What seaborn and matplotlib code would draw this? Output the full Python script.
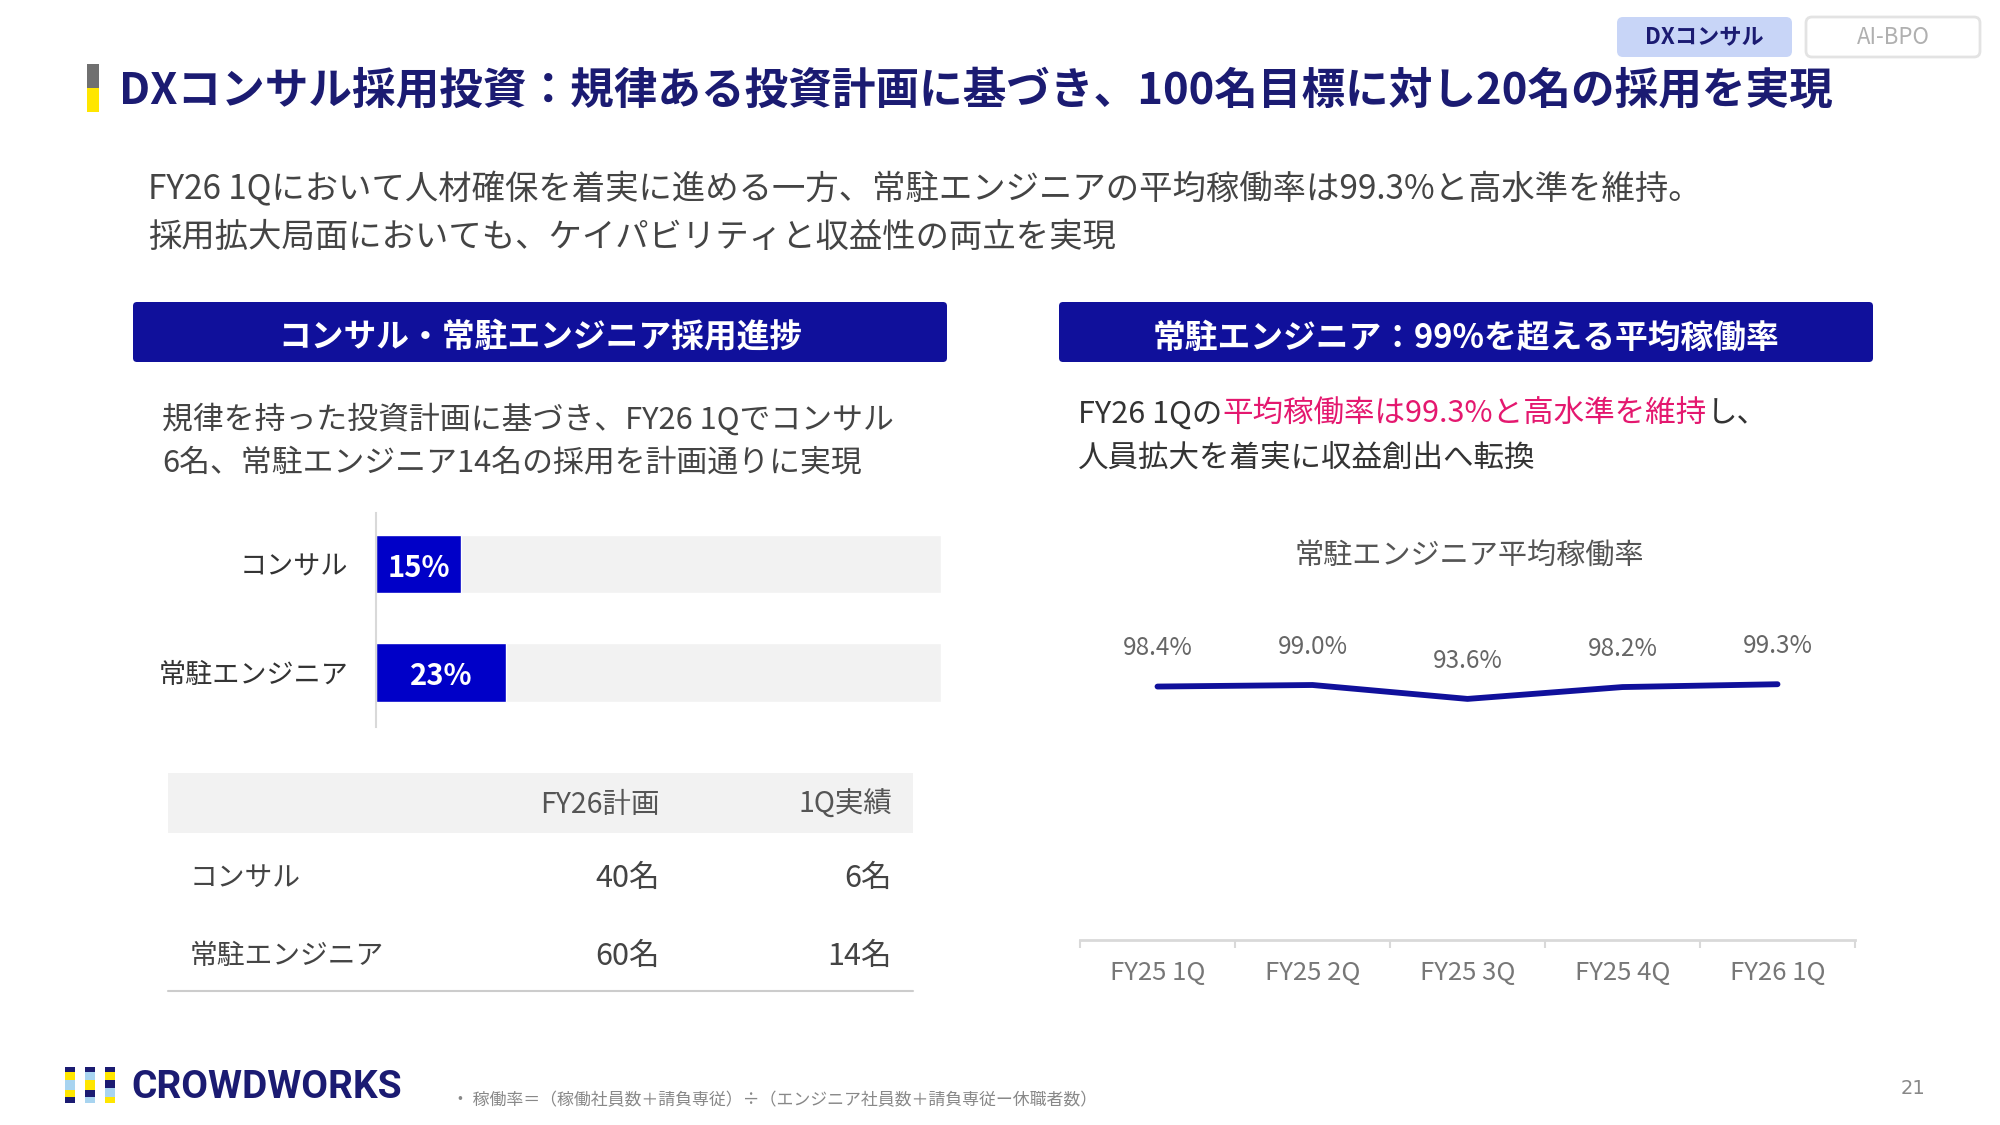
import numpy as np
import pandas as pd
import matplotlib
matplotlib.use('Agg')
import matplotlib.pyplot as plt
from matplotlib.patches import FancyBboxPatch, Rectangle
import seaborn as sns

# ---------------- data ----------------
hire_categories = ['コンサル', '常駐エンジニア']
hire_progress_pct = [15, 23]
hire_total_pct = [100, 100]
table_headers = ['FY26計画', '1Q実績']
plan_fy26 = [40, 60]
actual_1q = [6, 14]
quarters = ['FY25 1Q', 'FY25 2Q', 'FY25 3Q', 'FY25 4Q', 'FY26 1Q']
utilization = [98.4, 99.0, 93.6, 98.2, 99.3]

# ---------------- style ----------------
sns.set_theme(style='white')
plt.rcParams['font.family'] = ['Noto Sans CJK JP', 'DejaVu Sans']

NAVY = '#10109b'
TITLE = '#1b1b72'
DARK = '#444444'

W, H = 2000, 1125
DY = 4  # vertical text nudge (pixels)
fig = plt.figure(figsize=(20, 11.25), dpi=100)
bg = fig.add_axes([0, 0, 1, 1], zorder=0)
bg.set_xlim(0, W)
bg.set_ylim(H, 0)
bg.axis('off')


def px_axes(x0, y0, x1, y1, z=2):
    return fig.add_axes([x0 / W, 1 - y1 / H, (x1 - x0) / W, (y1 - y0) / H], zorder=z)


def txt(x, y, s, **kw):
    kw.setdefault('va', 'center')
    kw.setdefault('ha', 'left')
    return bg.text(x, y + DY, s, **kw)


# ---------------- title ----------------
bg.add_patch(Rectangle((87, 64), 12, 24, color='#707070', lw=0))
bg.add_patch(Rectangle((87, 88), 12, 24, color='#ffe600', lw=0))
txt(119, 87, 'DXコンサル採用投資：規律ある投資計画に基づき、100名目標に対し20名の採用を実現',
    fontsize=31.4, fontweight='bold', color=TITLE)

# tabs
bg.add_patch(FancyBboxPatch((1617, 17), 175, 40, boxstyle='round,pad=0,rounding_size=6',
                            fc='#c8d5f7', ec='none'))
txt(1704, 34, 'DXコンサル', fontsize=16, fontweight='bold', color=TITLE, ha='center')
bg.add_patch(FancyBboxPatch((1806, 17), 174, 40, boxstyle='round,pad=0,rounding_size=6',
                            fc='white', ec='#e3e3e3', lw=2))
txt(1893, 34, 'AI-BPO', fontsize=16, color='#b0b0b0', ha='center')

# subtitle
txt(148, 186, 'FY26 1Qにおいて人材確保を着実に進める一方、常駐エンジニアの平均稼働率は99.3%と高水準を維持。',
    fontsize=24, color=DARK)
txt(148, 234, '採用拡大局面においても、ケイパビリティと収益性の両立を実現',
    fontsize=24, color=DARK)

# section headers
for x0, s in [(133, 'コンサル・常駐エンジニア採用進捗'), (1059, '常駐エンジニア：99%を超える平均稼働率')]:
    bg.add_patch(FancyBboxPatch((x0, 302), 814, 60, boxstyle='round,pad=0,rounding_size=4',
                                fc=NAVY, ec='none'))
    txt(x0 + 407, 334, s, fontsize=23.6, fontweight='bold', color='white', ha='center')

# left paragraph
txt(162, 415, '規律を持った投資計画に基づき、FY26 1Qでコンサル', fontsize=22.2, color=DARK)
txt(162, 459, '6名、常駐エンジニア14名の採用を計画通りに実現', fontsize=22.2, color=DARK)

# right paragraph (rich text)
t1 = txt(1078, 410, 'FY26 1Qの', fontsize=22, color='#333333')
t2 = bg.annotate('平均稼働率は99.3%と高水準を維持', xy=(1, 0), xycoords=t1, fontsize=22,
                 color='#e4186f', va='bottom', ha='left')
bg.annotate('し、', xy=(1, 0), xycoords=t2, fontsize=22, color='#333333', va='bottom', ha='left')
txt(1078, 454, '人員拡大を着実に収益創出へ転換', fontsize=22, color='#333333')

# ---------------- bar chart ----------------
axb = px_axes(376, 513, 941, 727)
df_bar = pd.DataFrame({'cat': hire_categories, 'total': hire_total_pct, 'pct': hire_progress_pct})
sns.barplot(data=df_bar, x='total', y='cat', orient='h', color='#f2f2f2', width=0.54,
            saturation=1, ax=axb)
sns.barplot(data=df_bar, x='pct', y='cat', orient='h', color='#0000c8', width=0.54,
            saturation=1, ax=axb)
axb.set_xlim(0, 100)
axb.set_ylim(1.5, -0.47)
axb.set_xlabel('')
axb.set_ylabel('')
axb.set_xticks([])
for s in ['top', 'right', 'bottom']:
    axb.spines[s].set_visible(False)
axb.spines['left'].set_color('#d9d9d9')
axb.spines['left'].set_linewidth(1.5)
axb.tick_params(axis='y', length=0, pad=20, labelsize=19.5, labelcolor='#333333')
axb.patch.set_alpha(0)
for i, v in enumerate(hire_progress_pct):
    axb.annotate(f'{v}%', xy=(v / 2, i), xytext=(0, -2.5), textcoords='offset points',
                 ha='center', va='center', color='white', fontsize=21, fontweight='bold')

# ---------------- table ----------------
bg.add_patch(Rectangle((168, 773), 745, 60, color='#f2f2f2', lw=0))
col_x = [660, 892]
for x, h in zip(col_x, table_headers):
    txt(x, 801, h, fontsize=20.5, color='#555555', ha='right')
row_y = [874, 952]
for y, cat, p, a in zip(row_y, hire_categories, plan_fy26, actual_1q):
    txt(190, y, cat, fontsize=20, color=DARK)
    txt(col_x[0], y, f'{p}名', fontsize=22, color=DARK, ha='right')
    txt(col_x[1], y, f'{a}名', fontsize=22, color=DARK, ha='right')
bg.plot([168, 913], [991, 991], color='#cccccc', lw=1.5)

# ---------------- line chart ----------------
txt(1469, 553, '常駐エンジニア平均稼働率', fontsize=21, color='#555555', ha='center')
axl = px_axes(1080, 600, 1855, 940)
df_line = pd.DataFrame({'q': quarters, 'u': utilization})
sns.lineplot(data=df_line, x='q', y='u', color=NAVY, lw=4.2, sort=False, ax=axl,
             solid_capstyle='round', solid_joinstyle='round')
axl.set_xlim(-0.5, len(quarters) - 0.5)
axl.set_ylim(0, 132)
axl.set_xlabel('')
axl.set_ylabel('')
axl.set_yticks([])
for s in ['top', 'right', 'left']:
    axl.spines[s].set_visible(False)
axl.spines['bottom'].set_color('#d9d9d9')
axl.spines['bottom'].set_linewidth(2)
axl.set_xticks(range(len(quarters)))
axl.set_xticklabels(quarters)
axl.set_xticks(np.arange(-0.5, len(quarters), 1.0), minor=True)
axl.tick_params(axis='x', which='major', length=0, pad=14.5, labelsize=18.5, labelcolor='#777777')
axl.tick_params(axis='x', which='minor', length=6, width=1.5, color='#d9d9d9', direction='out', bottom=True)
axl.patch.set_alpha(0)
for i, v in enumerate(utilization):
    axl.annotate(f'{v:.1f}%', xy=(i, v), xytext=(0, 27.5), textcoords='offset points',
                 ha='center', va='center', fontsize=17.5, color='#666666')

# ---------------- footer ----------------
logo_cols = [
    [('#1b1b72', 5), ('#ffe600', 8), ('#a8d4f0', 10), ('#ffe600', 7), ('#1b1b72', 6)],
    [('#1b1b72', 5), ('#a8d4f0', 8), ('#ffe600', 10), ('#1b1b72', 7), ('#a8d4f0', 6)],
    [('#1b1b72', 5), ('#ffe600', 8), ('#1b1b72', 8), ('#a8d4f0', 9), ('#ffe600', 6)],
]
for k, col in enumerate(logo_cols):
    y = 1067
    for c, h in col:
        bg.add_patch(Rectangle((65 + 20 * k, y), 10, h, color=c, lw=0))
        y += h
bg.text(131, 1087, 'CROWDWORKS', fontsize=28, fontweight='bold', color=TITLE, va='center', ha='left',
        family=['Roboto', 'DejaVu Sans'])
txt(452, 1096, '・ 稼働率＝（稼働社員数＋請負専従）÷（エンジニア社員数＋請負専従ー休職者数）',
    fontsize=12.2, color='#888888')
txt(1913, 1084, '21', fontsize=14, color='#888888', ha='center', family=['DejaVu Sans'])

fig.savefig('out.png', dpi=100)
